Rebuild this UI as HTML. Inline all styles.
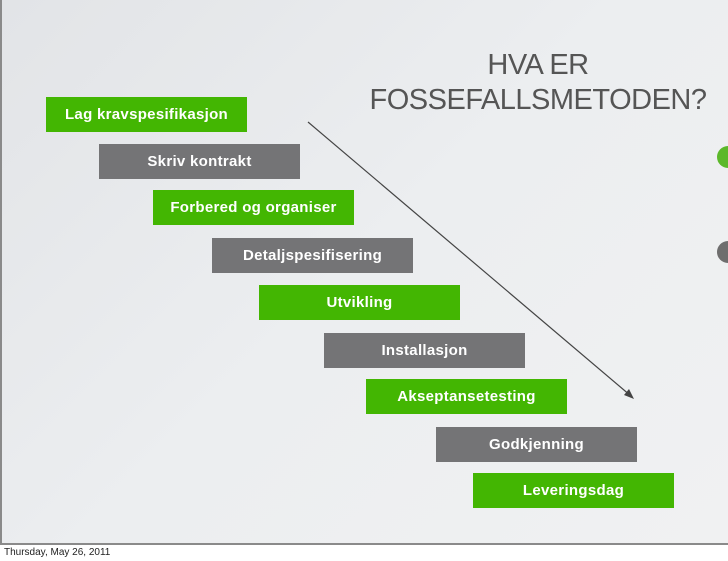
<!DOCTYPE html>
<html><head><style>
body{margin:0;width:728px;height:561px;background:#fff;position:relative;overflow:hidden;font-family:"Liberation Sans",sans-serif}
.slide{position:absolute;left:0;top:0;width:728px;height:545px;background:linear-gradient(135deg,#e2e4e7 0%,#eceef0 50%,#f0f1f2 100%);border-left:2px solid #8a8a8a;border-bottom:2px solid #8a8a8a;box-sizing:border-box}
.b{position:absolute;width:201px;height:35px;color:#fff;font-weight:bold;font-size:15px;line-height:35px;text-align:center;letter-spacing:0.3px}
.g{background:#43b602}.d{background:#747476}
.t{position:absolute;color:#555;font-size:29px;text-align:center;width:360px;left:358px;line-height:35px;letter-spacing:-0.5px}
.foot{position:absolute;left:4px;top:547px;font-size:10px;color:#222}
</style></head><body>
<div class="slide"></div>
<div class="t" style="top:48px">HVA ER<br>FOSSEFALLSMETODEN?</div>
<div style="position:absolute;left:717px;top:146px;width:22px;height:22px;border-radius:50%;background:#5cb82a"></div>
<div style="position:absolute;left:717px;top:241px;width:22px;height:22px;border-radius:50%;background:#6e6e6e"></div>
<svg style="position:absolute;left:0;top:0" width="728" height="561">
<line x1="308" y1="122" x2="631" y2="396" stroke="#444" stroke-width="1.2"/>
<polygon points="634,399 624,395 629,389" fill="#444"/>
</svg>
<div class="b g" style="left:46px;top:97px">Lag kravspesifikasjon</div>
<div class="b d" style="left:99px;top:144px">Skriv kontrakt</div>
<div class="b g" style="left:153px;top:190px">Forbered og organiser</div>
<div class="b d" style="left:212px;top:238px">Detaljspesifisering</div>
<div class="b g" style="left:259px;top:285px">Utvikling</div>
<div class="b d" style="left:324px;top:333px">Installasjon</div>
<div class="b g" style="left:366px;top:379px">Akseptansetesting</div>
<div class="b d" style="left:436px;top:427px">Godkjenning</div>
<div class="b g" style="left:473px;top:473px">Leveringsdag</div>
<div class="foot">Thursday, May 26, 2011</div>
</body></html>
